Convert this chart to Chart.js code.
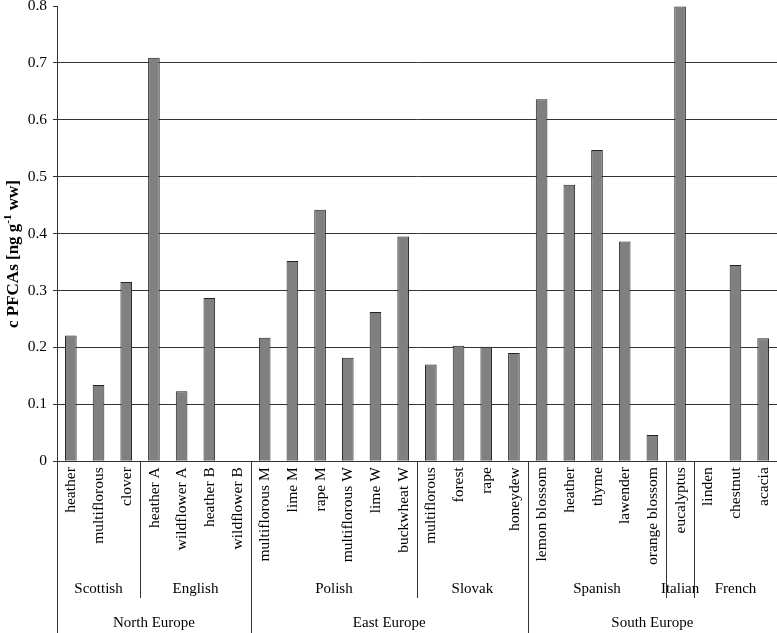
<!DOCTYPE html>
<html>
<head>
<meta charset="utf-8">
<script src="https://cdn.jsdelivr.net/npm/chart.js@4"></script>
<style>
  html, body { margin: 0; padding: 0; background: #ffffff; }
  #wrap { width: 777px; height: 633px; }
</style>
</head>
<body>
<div id="wrap"><canvas id="c" width="777" height="633"></canvas></div>
<script>
// ---- data ----
const categories = [
  'heather', 'multiflorous', 'clover',
  'heather A', 'wildflower A', 'heather B', 'wildflower B',
  'multiflorous M', 'lime M', 'rape M', 'multiflorous W', 'lime W', 'buckwheat W',
  'multiflorous', 'forest', 'rape', 'honeydew',
  'lemon blossom', 'heather', 'thyme', 'lawender', 'orange blossom',
  'eucalyptus',
  'linden', 'chestnut', 'acacia'
];
const values = [
  0.221, 0.134, 0.315,
  0.709, 0.123, 0.287, null,
  0.217, 0.352, 0.442, 0.182, 0.262, 0.395,
  0.170, 0.203, 0.201, 0.190,
  0.636, 0.486, 0.547, 0.386, 0.046,
  0.799,
  null, 0.345, 0.216
];
const groupLabels = ['Scottish', 'English', 'Polish', 'Slovak', 'Spanish', 'Italian', 'French'];
const groupSizes = [3, 4, 6, 4, 5, 1, 3];
const regionLabels = ['North Europe', 'East Europe', 'South Europe'];
const regionSizes = [7, 10, 9];
const yTicks = [0, 0.1, 0.2, 0.3, 0.4, 0.5, 0.6, 0.7, 0.8];

const SERIF = "'Liberation Serif', 'Times New Roman', serif";
const LINE = '#333333';

const labelsPlugin = {
  id: 'multiLevelLabels',
  afterDraw(chart) {
    const ctx = chart.ctx;
    const xs = chart.scales.x;
    const area = chart.chartArea;
    const H = chart.height;
    const edge = (b) => Math.round(xs.getPixelForValue(b - 0.5)) + 0.5;
    ctx.save();
    ctx.fillStyle = '#000';
    // rotated category labels
    ctx.font = '15.5px ' + SERIF;
    categories.forEach((lab, i) => {
      const x = xs.getPixelForValue(i);
      ctx.save();
      ctx.translate(x + 0.5, area.bottom + 6);
      ctx.rotate(-Math.PI / 2);
      ctx.textAlign = 'right';
      ctx.textBaseline = 'middle';
      ctx.fillText(lab, 0, 0);
      ctx.restore();
    });
    ctx.strokeStyle = LINE;
    ctx.lineWidth = 1;
    // group separators and labels
    const regionEdges = [0];
    regionSizes.reduce((a, s) => { regionEdges.push(a + s); return a + s; }, 0);
    let start = 0;
    ctx.font = '15px ' + SERIF;
    ctx.textAlign = 'center';
    ctx.textBaseline = 'middle';
    groupSizes.forEach((s, gi) => {
      const end = start + s;
      const cx = (xs.getPixelForValue(start - 0.5) + xs.getPixelForValue(end - 0.5)) / 2;
      ctx.fillText(groupLabels[gi], cx, 589);
      if (!regionEdges.includes(end)) {
        const x = edge(end);
        ctx.beginPath();
        ctx.moveTo(x, area.bottom);
        ctx.lineTo(x, 598);
        ctx.stroke();
      }
      start = end;
    });
    // region separators and labels
    regionEdges.forEach((b) => {
      const x = edge(b);
      ctx.beginPath();
      ctx.moveTo(x, area.bottom);
      ctx.lineTo(x, H);
      ctx.stroke();
    });
    start = 0;
    regionSizes.forEach((s, ri) => {
      const end = start + s;
      const cx = (xs.getPixelForValue(start - 0.5) + xs.getPixelForValue(end - 0.5)) / 2;
      ctx.fillText(regionLabels[ri], cx, 623);
      start = end;
    });
    // y axis title with superscript
    const cy = 254;
    const bx = 17.5;
    const big = 'bold 17px ' + SERIF;
    const small = 'bold 11px ' + SERIF;
    const parts = [
      { t: 'c PFCAs [ng g', f: big, dy: 0 },
      { t: '-1', f: small, dy: -7 },
      { t: ' ww]', f: big, dy: 0 }
    ];
    let total = 0;
    parts.forEach(p => { ctx.font = p.f; p.w = ctx.measureText(p.t).width; total += p.w; });
    ctx.save();
    ctx.translate(bx, cy);
    ctx.rotate(-Math.PI / 2);
    ctx.textAlign = 'left';
    ctx.textBaseline = 'alphabetic';
    let px = -total / 2;
    parts.forEach(p => {
      ctx.font = p.f;
      ctx.fillText(p.t, px, p.dy);
      px += p.w;
    });
    ctx.restore();
    ctx.restore();
  }
};

new Chart(document.getElementById('c'), {
  type: 'bar',
  data: {
    labels: categories,
    datasets: [{
      data: values,
      backgroundColor: '#808080',
      borderColor: '#222222',
      borderWidth: 1,
      barPercentage: 0.42,
      categoryPercentage: 1.0
    }]
  },
  options: {
    responsive: false,
    devicePixelRatio: 1,
    animation: false,
    layout: { padding: { top: 6, right: 0, bottom: 0, left: 0 } },
    plugins: {
      legend: { display: false },
      tooltip: { enabled: false },
      title: { display: false }
    },
    scales: {
      x: {
        type: 'category',
        offset: true,
        grid: { display: false, drawTicks: false },
        border: { display: true, color: LINE, width: 1 },
        ticks: { display: false },
        afterFit: (s) => { s.height = 171.8; s.paddingLeft = 0; s.paddingRight = 0; }
      },
      y: {
        min: 0,
        max: 0.8,
        afterBuildTicks: (s) => { s.ticks = yTicks.map(v => ({ value: v })); },
        ticks: {
          color: '#000',
          padding: 6,
          font: { family: SERIF, size: 15.5 },
          callback: (v) => (v === 0 ? '0' : Number(v).toFixed(1))
        },
        grid: {
          color: (c) => (c.tick && c.tick.value >= 0.8 ? 'rgba(0,0,0,0)' : LINE),
          tickColor: LINE,
          tickLength: 4,
          lineWidth: 1
        },
        border: { display: true, color: LINE, width: 1 },
        afterFit: (s) => { s.width = 57; s.paddingTop = 0; s.paddingBottom = 0; }
      }
    }
  },
  plugins: [labelsPlugin]
});
</script>
</body>
</html>
